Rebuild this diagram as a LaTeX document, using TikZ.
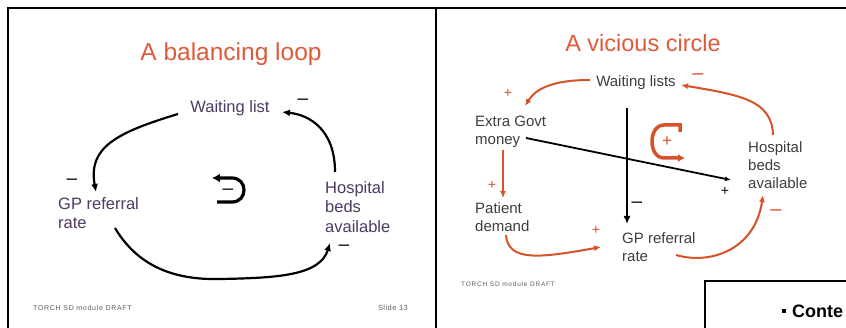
\documentclass[tikz,border=0pt]{standalone}
\usepackage{fontspec}
\setmainfont{Liberation Sans}
\usetikzlibrary{arrows.meta}

\definecolor{slidered}{RGB}{222,90,58}
\definecolor{arroworange}{RGB}{214,82,40}
\definecolor{leftlabel}{RGB}{78,58,98}
\definecolor{rightlabel}{RGB}{62,62,62}
\definecolor{footgray}{RGB}{95,95,95}

\tikzset{
  frame/.style={line width=2.4pt, black},
  slidetitle/.style={text=slidered, inner sep=0pt, anchor=base},
  varL/.style={text=leftlabel, font=\fontsize{16.5}{19.5}\selectfont, inner sep=0pt, align=left},
  varR/.style={text=rightlabel, font=\fontsize{15}{18}\selectfont, inner sep=0pt, align=left},
  signB/.style={text=black, font=\fontsize{14}{14}\selectfont, inner sep=0pt},
  signO/.style={text=arroworange, font=\fontsize{14}{14}\selectfont, inner sep=0pt},
  minusB/.style={text=black, font=\fontsize{19}{19}\selectfont, inner sep=0pt},
  minusO/.style={text=arroworange, font=\fontsize{20}{20}\selectfont, inner sep=0pt},
  linkB/.style={line width=2.2pt, black, -{Latex[length=8pt,width=7pt]}},
  linkO/.style={line width=2pt, arroworange, -{Latex[length=7pt,width=6pt]}},
  footer/.style={text=footgray, inner sep=0pt},
}

\begin{document}
\begin{tikzpicture}[x=1pt,y=-1pt]
\useasboundingbox[fill=white] (0,0) rectangle (846,328);

% slide frames
\draw[frame] (8,330) -- (8,8) -- (848,8);
\draw[frame] (436,8) -- (436,330);
\draw[line width=2pt] (705,330) -- (705,281) -- (848,281);

% ---------- left slide: balancing loop ----------
\node[slidetitle, font=\fontsize{24.5}{28}\selectfont] (t1) at (231,61) {A balancing loop};

\node[varL, anchor=base] (wl) at (230,113) {Waiting list};
\node[varL, anchor=north west] (gp) at (58,197) {GP referral\\rate};
\node[varL, anchor=north west] (hb) at (325,181) {Hospital\\beds\\available};

\node[minusB] (s1) at (303,102) {–};
\node[minusB] (s2) at (72,182) {–};
\node[minusB] (s3) at (344,248) {–};

\draw[linkB] ([shift={(-52,1)}]wl.base) .. controls (115,133) and (88,148) .. ([shift={(38,-5)}]gp.north west);
\draw[linkB] ([shift={(57,31)}]gp.north west) .. controls (140,270) and (180,280) .. (220,279)
             .. controls (280,278) and (320,275) .. ([shift={(5,62)}]hb.north west);
\draw[linkB] ([shift={(10,-9)}]hb.north west) .. controls (335,130) and (310,115) .. ([shift={(52,-1)}]wl.base);

% loop marker
\draw[line width=3.2pt, -{Latex[length=8pt,width=9pt]}]
  (217,202) -- (232,202) .. controls (248,202) and (248,178) .. (232,178) -- (212,178);
\node[minusB] (s4) at (228,192) {–};

\node[footer, anchor=base west, font=\fontsize{7}{8}\selectfont\addfontfeatures{LetterSpace=10}] (f1) at (33,311) {TORCH SD module DRAFT};
\node[footer, anchor=base east, font=\fontsize{7.5}{8}\selectfont\addfontfeatures{LetterSpace=6}] (f2) at (408,311) {Slide 13};

% ---------- right slide: vicious circle ----------
\node[slidetitle, font=\fontsize{23.5}{28}\selectfont] (t2) at (643,52) {A vicious circle};

\node[varR, anchor=base] (wls) at (636,87) {Waiting lists};
\node[varR, anchor=north west] (egm) at (475,116) {Extra Govt\\money};
\node[varR, anchor=north west] (pd) at (475,202) {Patient\\demand};
\node[varR, anchor=north west] (gpr) at (622,232) {GP referral\\rate};
\node[varR, anchor=north west] (hba) at (748,141) {Hospital\\beds\\available};

\node[minusO] (p1) at (698,77) {–};
\node[signO] (p2) at (508,93) {+};
\node[signO] (p3) at (492,185) {+};
\node[signO] (p4) at (596,230) {+};
\node[minusO] (p5) at (776,213) {–};
\node[signB] (p6) at (725,191) {+};
\node[minusB] (p7) at (637,205) {–};

\draw[linkO] ([shift={(-46,-7)}]wls.base) .. controls (550,80) and (535,90) .. ([shift={(50,-10)}]egm.north west);
\draw[linkO] ([shift={(28,34)}]egm.north west) -- ([shift={(28,-4)}]pd.north west);
\draw[linkO] ([shift={(31,33)}]pd.north west) .. controls (508,262) and (540,258) .. ([shift={(-21,15)}]gpr.north west);
\draw[linkO] ([shift={(54,23)}]gpr.north west) .. controls (710,265) and (755,250) .. ([shift={(15,54)}]hba.north west);
\draw[linkO] ([shift={(25,-6)}]hba.north west) .. controls (772,100) and (740,95) .. ([shift={(45,-2)}]wls.base);

% crossing black links
\coordinate (vtop) at (627,108);
\draw[linkB, line width=2.4pt] (vtop) -- ([shift={(5,-8)}]gpr.north west);
\draw[line width=1.8pt, -{Latex[length=6pt,width=5pt]}] ([shift={(51,22)}]egm.north west) -- ([shift={(-17,39)}]hba.north west);

% loop marker
\draw[line width=3.5pt, arroworange, -{Latex[length=7pt,width=8pt]}]
  (680,132) -- (680,125) -- (664,125) .. controls (648,125) and (648,158) .. (664,158) -- (685,158);
\node[signO, font=\fontsize{17}{17}\selectfont] (p8) at (667,142) {+};

\node[footer, anchor=base west, font=\fontsize{6.5}{8}\selectfont\addfontfeatures{LetterSpace=12}] (f3) at (461,287) {TORCH SD module DRAFT};

% next slide peeking in
\fill (782,309) rectangle (786,313);
\node[anchor=base west, inner sep=0pt, font=\fontsize{18}{20}\selectfont\bfseries] (c1) at (792,318) {Conte};
\end{tikzpicture}
\end{document}
